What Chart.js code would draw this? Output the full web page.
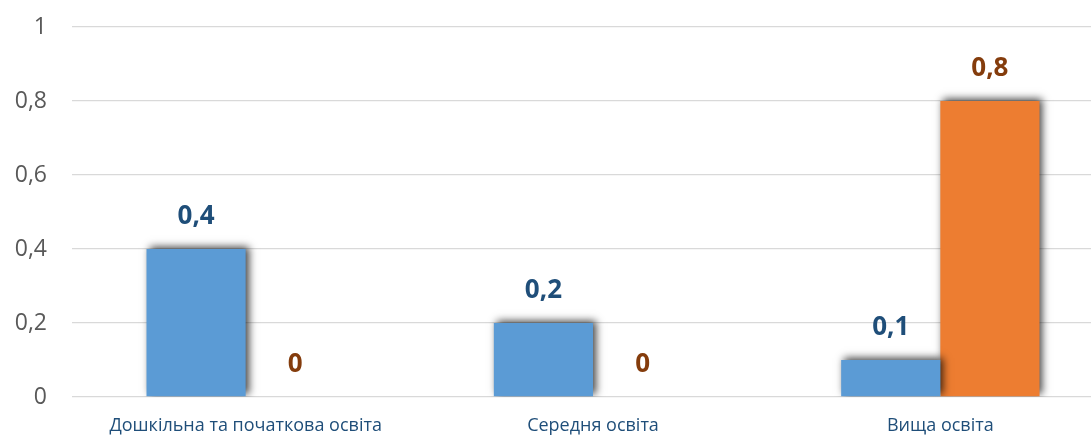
<!DOCTYPE html>
<html lang="uk">
<head>
<meta charset="utf-8">
<title>Освіта</title>
<script src="https://cdn.jsdelivr.net/npm/chart.js@4.4.1/dist/chart.umd.min.js"></script>
<style>
  html, body { margin: 0; padding: 0; background: #fff; overflow: hidden; }
  #wrap { position: relative; width: 1114px; height: 435px; }
</style>
</head>
<body>
<div id="wrap"><canvas id="chart"></canvas></div>
<script>
  // ── 資料 ──────────────────────────────────────────────
  const categories = ['Дошкільна та початкова освіта', 'Середня освіта', 'Вища освіта'];
  const seriesBlue = [0.4, 0.2, 0.1];
  const seriesOrange = [0, 0, 0.8];
  const yTicks = [0, 0.2, 0.4, 0.6, 0.8, 1];

  const FONT = '"Open Sans", "Noto Sans", sans-serif';

  function fmt(v) {
    return String(Number(v.toFixed(1))).replace('.', ',');
  }

  // ── 柱狀陰影 ──────────────────────────────────────────
  const barShadow = {
    id: 'barShadow',
    beforeDatasetsDraw(chart) {
      const ctx = chart.ctx;
      ctx.save();
      ctx.shadowColor = 'rgba(0,0,0,0.75)';
      ctx.shadowBlur = 8;
      ctx.shadowOffsetX = 3;
      ctx.shadowOffsetY = -2;
    },
    afterDatasetsDraw(chart) {
      chart.ctx.restore();
    },
  };

  // ── 數值標籤 ──────────────────────────────────────────
  const valueLabels = {
    id: 'valueLabels',
    afterDraw(chart) {
      const ctx = chart.ctx;
      ctx.save();
      ctx.font = 'bold 26px ' + FONT;
      ctx.textAlign = 'center';
      ctx.textBaseline = 'middle';
      chart.data.datasets.forEach((ds, i) => {
        chart.getDatasetMeta(i).data.forEach((bar, j) => {
          ctx.fillStyle = ds.labelColor;
          ctx.fillText(fmt(ds.data[j]), bar.x, bar.y - 32);
        });
      });
      ctx.restore();
    },
  };

  new Chart(document.getElementById('chart'), {
    type: 'bar',
    data: {
      labels: categories,
      datasets: [
        { label: 'Ряд 1', data: seriesBlue, backgroundColor: '#5B9BD5', labelColor: '#1F4E79' },
        { label: 'Ряд 2', data: seriesOrange, backgroundColor: '#ED7D31', labelColor: '#843C0C' },
      ],
    },
    options: {
      responsive: true,
      maintainAspectRatio: false,
      animation: false,
      layout: { padding: { top: 27, right: 0, bottom: 0, left: 0 } },
      datasets: { bar: { barPercentage: 1, categoryPercentage: 0.571 } },
      plugins: { legend: { display: false }, tooltip: { enabled: false } },
      scales: {
        x: {
          grid: { display: false },
          border: { display: false },
          afterFit(scale) { scale.height = 38; },
          ticks: { color: '#1F4E79', font: { family: FONT, size: 18 }, padding: 10, maxRotation: 0 },
        },
        y: {
          min: 0,
          max: 1,
          afterBuildTicks(scale) { scale.ticks = yTicks.map(v => ({ value: v })); },
          afterFit(scale) {
            scale.width = 72;
            scale.paddingTop = 0;
            scale.paddingBottom = 0;
          },
          grid: { color: '#D9D9D9', lineWidth: 1.3, drawTicks: false },
          border: { display: false },
          ticks: { color: '#595959', font: { family: FONT, size: 23 }, padding: 25, callback: v => fmt(v) },
        },
      },
    },
    plugins: [barShadow, valueLabels],
  });
</script>
</body>
</html>
